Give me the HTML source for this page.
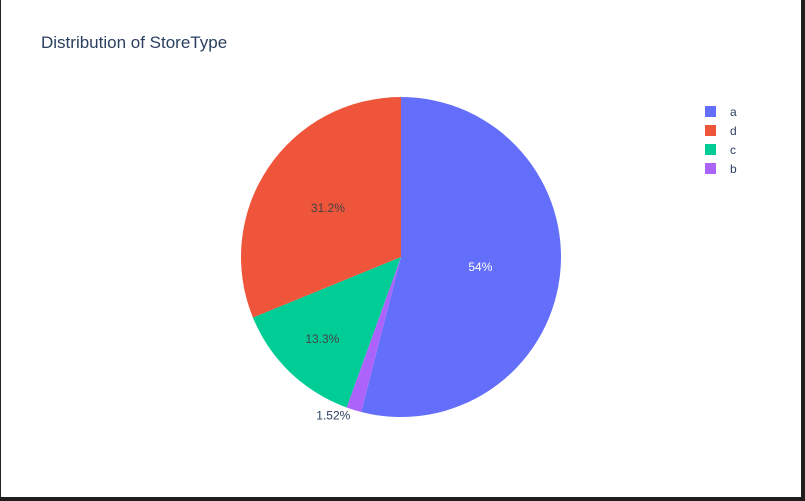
<!DOCTYPE html>
<html><head><meta charset="utf-8"><style>
html,body{margin:0;padding:0;background:#fff}
svg{display:block}
text{font-family:"Liberation Sans",Arial,sans-serif}
</style></head><body>
<svg id="chart" width="805" height="501" viewBox="0 0 805 501">
<rect x="0" y="0" width="805" height="501" fill="#fff"/>
<rect x="0" y="0" width="1" height="501" fill="#222"/>
<rect x="801" y="0" width="4" height="501" fill="#1e1e1e"/>
<rect x="0" y="497" width="805" height="4" fill="#1e1e1e"/>
<text x="41" y="48" font-size="17" fill="#2a3f5f">Distribution of StoreType</text>
<g id="slices"></g>
<g id="labels"></g>
<g id="legend"></g>
</svg>
<script>
const categories = ["a", "b", "c", "d"];
const values = [54.0, 1.52, 13.3, 31.18];
const labelsText = ["54%", "1.52%", "13.3%", "31.2%"];
const colors = ["#636efa", "#ab63fa", "#00cc96", "#ef553b"];
const legendOrder = ["a", "d", "c", "b"];

const NS = "http://www.w3.org/2000/svg";
const cx = 401, cy = 257, R = 160;
const labelRadius = [0.5, 1, 0.71, 0.55];
const total = values.reduce((s, v) => s + v, 0);
const slicesG = document.getElementById("slices");
const labelsG = document.getElementById("labels");
const legendG = document.getElementById("legend");
function pt(angle, r) { return [cx + r * Math.sin(angle), cy - r * Math.cos(angle)]; }
let start = 0;
categories.forEach((c, i) => {
  const sweep = values[i] / total * 2 * Math.PI;
  const end = start + sweep;
  const [x1, y1] = pt(start, R), [x2, y2] = pt(end, R);
  const large = sweep > Math.PI ? 1 : 0;
  const p = document.createElementNS(NS, "path");
  p.setAttribute("d", `M${cx},${cy} L${x1},${y1} A${R},${R} 0 ${large} 1 ${x2},${y2} Z`);
  p.setAttribute("fill", colors[i]);
  
  
  slicesG.appendChild(p);
  const mid = start + sweep / 2;
  const t = document.createElementNS(NS, "text");
  t.setAttribute("font-size", "12");
  if (values[i] / total < 0.05) {
    const [lx, ly] = pt(mid, R + 12);
    t.setAttribute("x", lx);
    t.setAttribute("y", ly - 2);
    t.setAttribute("text-anchor", "end");
    t.setAttribute("fill", "#2a3f5f");
  } else {
    const [lx, ly] = pt(mid, R * (labelRadius[i] || 0.55));
    t.setAttribute("x", lx);
    t.setAttribute("y", ly + 4);
    t.setAttribute("text-anchor", "middle");
    t.setAttribute("fill", c === "a" ? "#fff" : "#444");
  }
  t.textContent = labelsText[i];
  
  
  labelsG.appendChild(t);
  start = end;
});
legendOrder.forEach((c, j) => {
  const i = categories.indexOf(c);
  const y = 112 + j * 19;
  const g = document.createElementNS(NS, "g");
  
  
  const r = document.createElementNS(NS, "rect");
  r.setAttribute("x", 705); r.setAttribute("y", y - 6);
  r.setAttribute("width", 11); r.setAttribute("height", 11);
  r.setAttribute("fill", colors[i]);
  
  
  const t = document.createElementNS(NS, "text");
  t.setAttribute("x", 730); t.setAttribute("y", y + 4);
  t.setAttribute("font-size", "12"); t.setAttribute("fill", "#2a3f5f");
  t.textContent = c;
  
  
  g.appendChild(r); g.appendChild(t);
  legendG.appendChild(g);
});
</script>
</body></html>
